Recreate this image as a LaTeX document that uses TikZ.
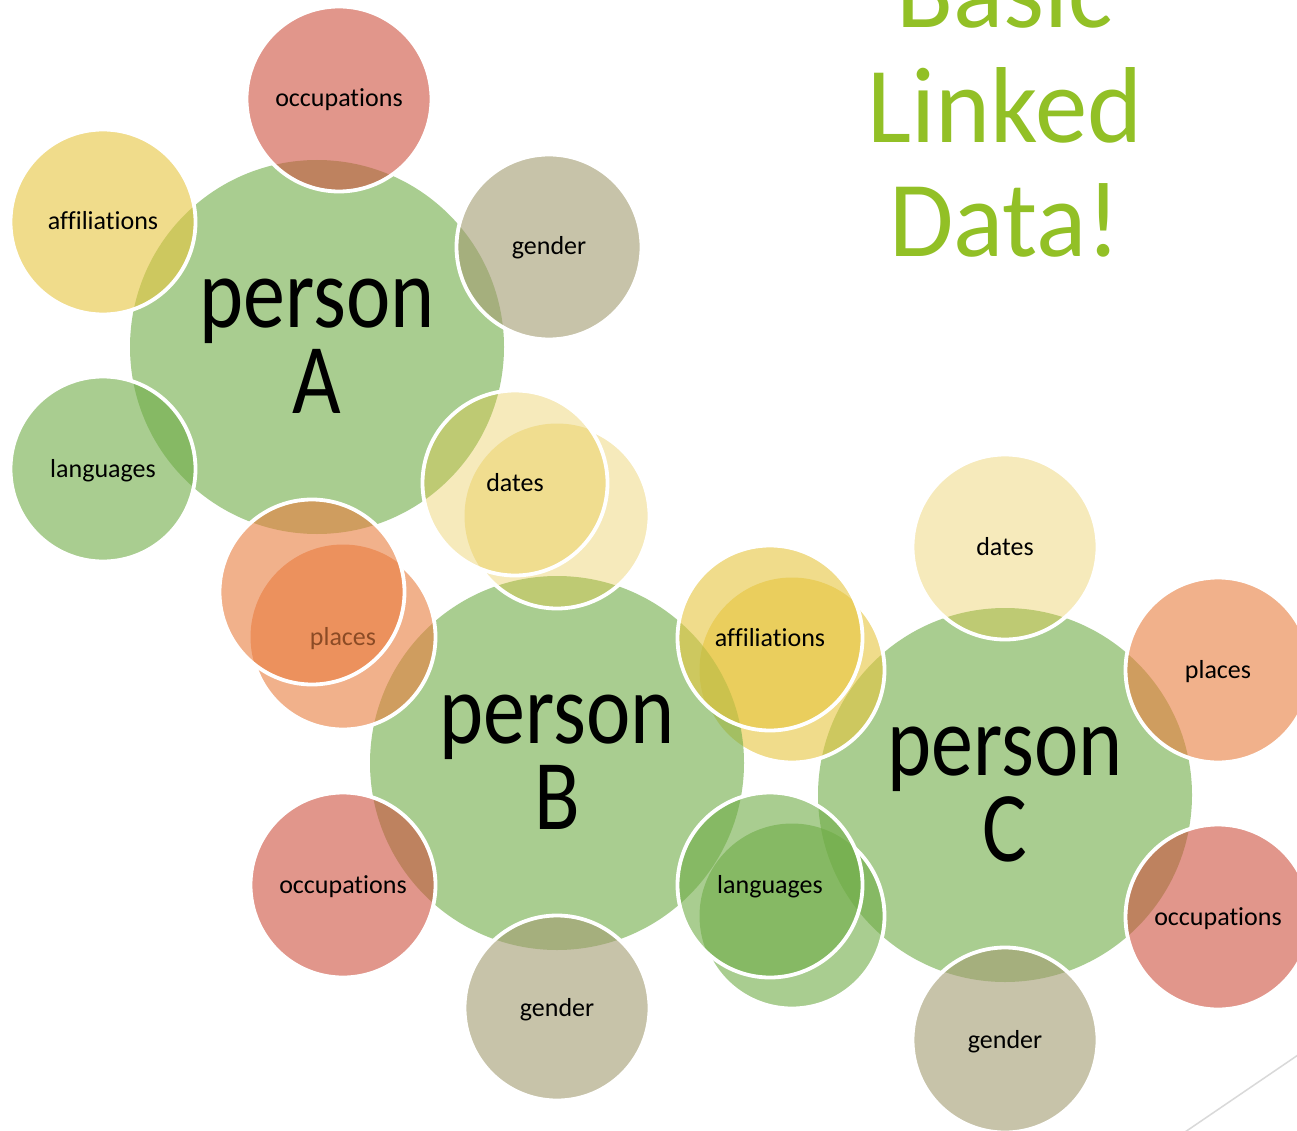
\documentclass[tikz,border=0pt]{standalone}
\usepackage{fontspec}
\setmainfont{Carlito}[Ligatures={NoCommon}]
\usepackage{graphicx}
\definecolor{pgreen}{HTML}{70AD47}
\definecolor{pred}{HTML}{CD503F}
\definecolor{pyellow}{HTML}{E6C53F}
\definecolor{pgray}{HTML}{A39B71}
\definecolor{porange}{HTML}{E97D3F}
\definecolor{ptitle}{RGB}{146,192,38}
\newcommand\smalllab{\fontsize{26}{30}\selectfont}
\newcommand\biglab{\fontsize{100}{100}\selectfont}
\newcommand\titlefont{\fontsize{108}{108}\selectfont}
\newcommand\pw[1]{\scalebox{0.84}[1]{#1}}
\newcommand\tw[1]{\scalebox{0.97}[1]{#1}}
\begin{document}
\begin{tikzpicture}[x=1pt,y=-1pt,
  person/.style={circle, minimum size=374pt, inner sep=0pt, fill=pgreen, fill opacity=0.6},
  sat/.style={circle, minimum size=185pt, inner sep=0pt, fill opacity=0.6, draw=white, line width=3.8pt},
  ghost/.style={circle, minimum size=185pt, inner sep=0pt, fill opacity=0.6},
  ring/.style={draw=white, line width=3.8pt},
  lab/.style={font=\smalllab, anchor=base, inner sep=0pt, text=black},
  plab/.style={font=\biglab, anchor=base, inner sep=0pt, text=black},
  tlab/.style={font=\titlefont, anchor=base, inner sep=0pt, text=ptitle}]
\fill[white] (0,0) rectangle (1297,1131);
\path[use as bounding box] (0,0) rectangle (1297,1131);
% coordinates of the circles lying on top of hidden ones
\coordinate (cDatA) at (515,483);
\coordinate (cPlaA) at (312,592);
\coordinate (cAffB) at (770,638);
\coordinate (cLanB) at (770,885);
% ---------------- person C ----------------
\node[person] (pC) at (1005,795) {};
\node[plab] (pCt1) at (1005,775) {\pw{person}};
\node[plab] (pCt2) at (1005,861) {\pw{C}};
\node[sat, fill=pyellow, fill opacity=0.35] (datC) at (1005,547) {};
\node[lab] (datCt) at (1005,555) {dates};
\node[sat, fill=porange] (plaC) at (1218,670) {};
\node[lab] (plaCt) at (1218,678) {places};
\node[sat, fill=pred] (occC) at (1218,917) {};
\node[lab] (occCt) at (1218,925) {occupations};
\node[sat, fill=pgray] (genC) at (1005,1040) {};
\node[lab] (genCt) at (1005,1048) {gender};
\node[ghost, fill=pyellow] (affC) at (792,670) {};
\begin{scope}[even odd rule]
  \clip (-50,-50) -- (-50,1200) -- (1400,1200) -- (1400,-50) -- cycle (cAffB) circle[radius=92.5];
  \draw[ring] (affC.center) circle[radius=92.5];
\end{scope}
\node[ghost, fill=pgreen] (lanC) at (792,916) {};
\begin{scope}[even odd rule]
  \clip (-50,-50) -- (-50,1200) -- (1400,1200) -- (1400,-50) -- cycle (cLanB) circle[radius=92.5];
  \draw[ring] (lanC.center) circle[radius=92.5];
\end{scope}
% ---------------- person B ----------------
\node[person] (pB) at (557,763) {};
\node[plab] (pBt1) at (557,743) {\pw{person}};
\node[plab] (pBt2) at (557,829) {\pw{B}};
\node[ghost, fill=pyellow, fill opacity=0.35] (datB) at (557,516) {};
\begin{scope}[even odd rule]
  \clip (-50,-50) -- (-50,1200) -- (1400,1200) -- (1400,-50) -- cycle (cDatA) circle[radius=92.5];
  \draw[ring] (datB.center) circle[radius=92.5];
\end{scope}
\node[ghost, fill=porange] (plaB) at (343,637) {};
\begin{scope}[even odd rule]
  \clip (-50,-50) -- (-50,1200) -- (1400,1200) -- (1400,-50) -- cycle (cPlaA) circle[radius=92.5];
  \draw[ring] (plaB.center) circle[radius=92.5];
\end{scope}
\node[lab] (plaBt) at (343,645) {places};
\node[sat, fill=pred] (occB) at (343,885) {};
\node[lab] (occBt) at (343,893) {occupations};
\node[sat, fill=pgray] (genB) at (557,1008) {};
\node[lab] (genBt) at (557,1016) {gender};
\node[sat, fill=pyellow] (affB) at (cAffB) {};
\node[lab] (affBt) at (770,646) {affiliations};
\node[sat, fill=pgreen] (lanB) at (cLanB) {};
\node[lab] (lanBt) at (770,893) {languages};
% ---------------- person A ----------------
\node[person] (pA) at (317,347) {};
\node[plab] (pAt1) at (317,327) {\pw{person}};
\node[plab] (pAt2) at (317,413) {\pw{A}};
\node[sat, fill=pred] (occA) at (339,99) {};
\node[lab] (occAt) at (339,107) {occupations};
\node[sat, fill=pgray] (genA) at (549,247) {};
\node[lab] (genAt) at (549,255) {gender};
\node[sat, fill=pyellow, fill opacity=0.35] (datA) at (cDatA) {};
\node[lab] (datAt) at (515,491) {dates};
\node[sat, fill=porange] (plaA) at (cPlaA) {};
\node[sat, fill=pgreen] (lanA) at (103,469) {};
\node[lab] (lanAt) at (103,477) {languages};
\node[sat, fill=pyellow] (affA) at (103,222) {};
\node[lab] (affAt) at (103,230) {affiliations};
% ---------------- title ----------------
\node[tlab] (t1) at (1005,28) {\tw{Basic}};
\node[tlab] (t2) at (1005,143) {\tw{Linked}};
\node[tlab] (t3) at (1005,257) {\tw{Data!}};
% ---------------- corner line ----------------
\coordinate (g1) at (1185,1132);
\coordinate (g2) at (1298,1055);
\draw[black!15, line width=1.5pt] (g1) -- (g2);
\end{tikzpicture}
\end{document}
